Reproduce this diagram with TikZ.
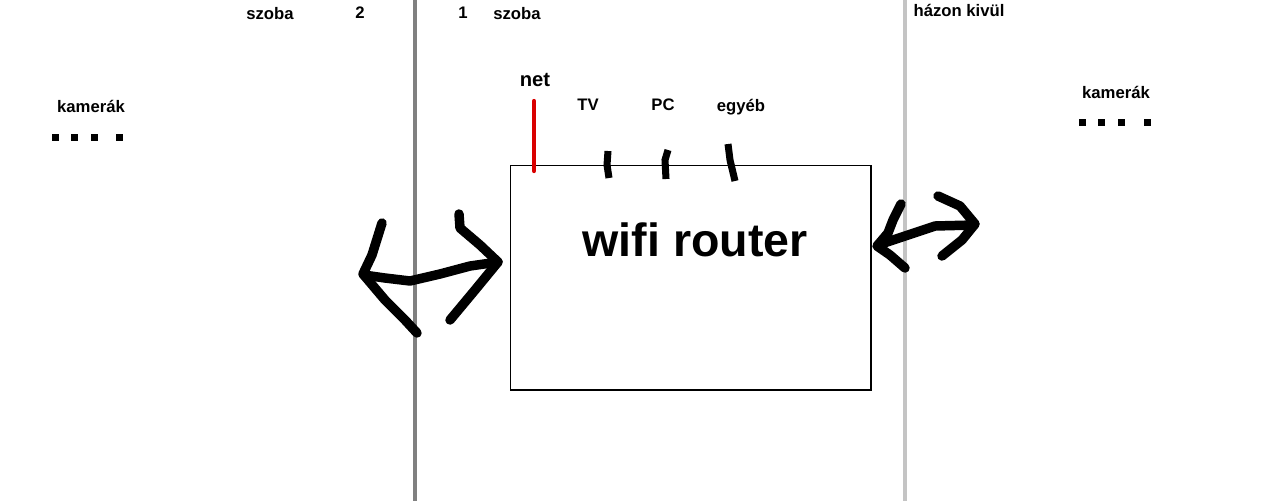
\documentclass[tikz,border=0pt]{standalone}
\usepackage{fontspec}
\setmainfont{Liberation Sans}
\usepackage{tikz}
\usetikzlibrary{positioning,calc}

\tikzset{
  label/.style={font=\fontsize{9.5}{11}\selectfont\bfseries, inner sep=0pt},
  scribble/.style={line width=5.4pt, line cap=round, line join=round},
  stub/.style={line width=4pt},
}

\begin{document}
\begin{tikzpicture}[x=0.02cm, y=-0.02cm]
    \useasboundingbox (0,0) rectangle (1280,501);

    % Room walls
    \draw[line width=2.3pt, color={rgb,255:red,128;green,128;blue,128}] (415,0) -- (415,501);
    \draw[line width=2.3pt, color={rgb,255:red,196;green,196;blue,196}] (905,0) -- (905,501);

    % Room labels
    \node[label] (szoba2) at (270,14) {szoba};
    \node[label] (num2) at (360,13) {2};
    \node[label] (num1) at (463,13) {1};
    \node[label] (szoba1) at (517,14) {szoba};
    \node[label] (outside) at (959,10) {házon kivül};

    % Router
    \node[draw, line width=0.6pt, minimum width=7.22cm, minimum height=4.5cm] (router) at (690.5,277.5) {};
    \node[font=\fontsize{26.5}{30}\selectfont\bfseries, inner sep=0pt] (wifi) at (695,240) {wifi router};

    % Ports
    \node[font=\fontsize{11.5}{13}\selectfont\bfseries, inner sep=0pt] (net) at (535,80) {net};
    \node[label] (tv) at (588,105) {TV};
    \node[label] (pc) at (663,105) {PC};
    \node[label] (other) at (741,107) {egyéb};
    \draw[line width=2.4pt, red!85!black, line cap=round] (534,101) -- (534,171);
    \draw[stub] (608,151) -- (607,165) -- (609,178);
    \draw[stub] (668,150) -- (665,160) -- (666,179);
    \draw[stub] (728,144) -- (730,160) -- (735,181);

    % Cameras
    \node[label] (camleft) at (91,106) {kamerák};
    \node[label] (camright) at (1116,92) {kamerák};
    \foreach \x in {55,74,94,119} {
        \fill (\x-3.5,134) rectangle (\x+3.5,141);
    }
    \foreach \x in {1082,1101,1121,1147} {
        \fill (\x-3.5,119) rectangle (\x+3.5,126);
    }

    % Two way links
    \draw[scribble] (382,223) -- (372,255) -- (363,274) -- (385,300) -- (405,320) -- (417,333);
    \draw[scribble] (364,275) -- (385,278) -- (410,281) -- (440,274) -- (470,266) -- (498,262);
    \draw[scribble] (459,214) -- (460,228) -- (480,245) -- (498,262) -- (475,290) -- (450,320);
    \draw[scribble] (901,204) -- (893,220) -- (888,233) -- (877,246) -- (890,255) -- (905,268);
    \draw[scribble] (878,245) -- (905,236) -- (935,226) -- (974,225);
    \draw[scribble] (938,196) -- (960,206) -- (975,224) -- (962,240) -- (942,256);
\end{tikzpicture}
\end{document}
